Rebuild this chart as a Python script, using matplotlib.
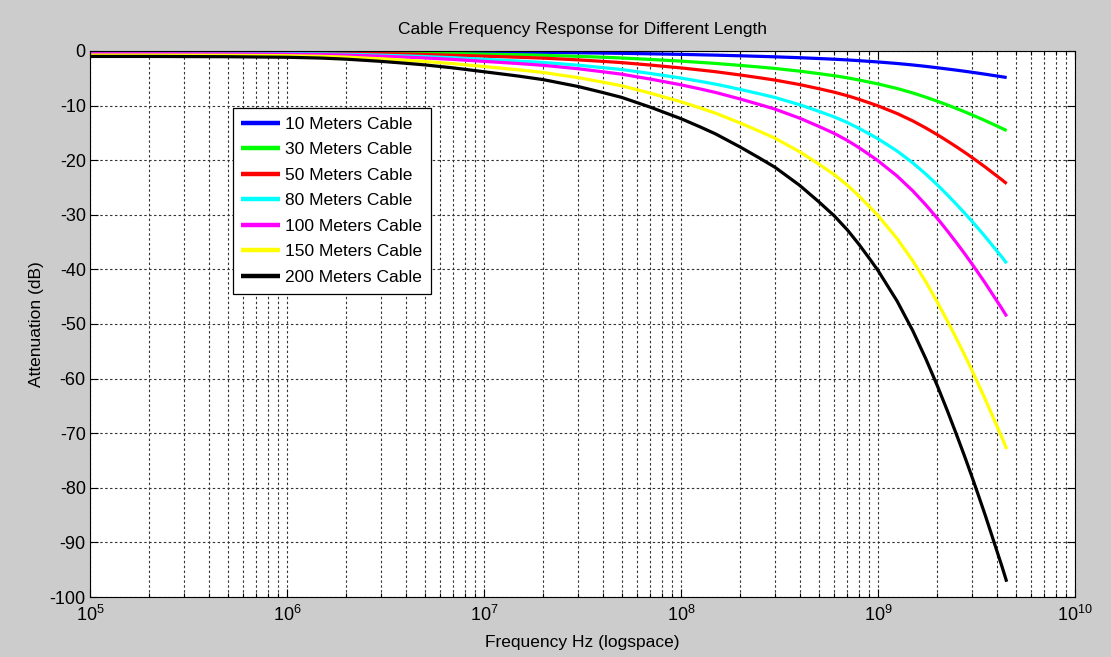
import matplotlib
matplotlib.use("Agg")
import matplotlib.pyplot as plt
from matplotlib.ticker import LogLocator, LogFormatterMathtext, MultipleLocator, NullFormatter

plt.rcParams['font.family'] = ['Liberation Sans', 'DejaVu Sans']
plt.rcParams['mathtext.fontset'] = 'custom'
plt.rcParams['mathtext.rm'] = 'Liberation Sans'
plt.rcParams['mathtext.it'] = 'Liberation Sans'
plt.rcParams['axes.unicode_minus'] = False

# ---- data ----
freq_hz = [1e5, 2e5, 5e5, 1e6, 1.5e6, 2e6, 3e6, 4e6, 5e6, 7e6,
           1e7, 1.5e7, 2e7, 3e7, 4e7, 5e7, 7e7,
           1e8, 1.25e8, 1.5e8, 2e8, 2.5e8, 3e8, 4e8, 5e8, 6e8, 7e8, 8e8, 9e8,
           1e9, 1.25e9, 1.5e9, 1.75e9, 2e9, 2.25e9, 2.5e9, 2.75e9, 3e9, 3.25e9,
           3.5e9, 3.75e9, 4e9, 4.25e9, 4.5e9]

att_10m = [-0.05, -0.05, -0.05, -0.06, -0.07, -0.08, -0.1, -0.11, -0.13, -0.16,
           -0.19, -0.23, -0.26, -0.33, -0.38, -0.43, -0.52,
           -0.62, -0.7, -0.76, -0.88, -0.98, -1.07, -1.23, -1.38, -1.51, -1.64, -1.77, -1.9,
           -2.01, -2.29, -2.56, -2.82, -3.07, -3.3, -3.51, -3.71, -3.9, -4.08,
           -4.25, -4.42, -4.57, -4.72, -4.86]
att_30m = [-0.15, -0.15, -0.16, -0.17, -0.2, -0.23, -0.29, -0.34, -0.38, -0.47,
           -0.57, -0.69, -0.79, -0.98, -1.14, -1.28, -1.55,
           -1.86, -2.09, -2.28, -2.64, -2.94, -3.2, -3.69, -4.14, -4.53, -4.92, -5.31, -5.69,
           -6.03, -6.87, -7.68, -8.46, -9.2, -9.89, -10.53, -11.13, -11.7, -12.24,
           -12.75, -13.25, -13.71, -14.15, -14.58]
att_50m = [-0.25, -0.25, -0.26, -0.29, -0.33, -0.38, -0.48, -0.56, -0.64, -0.78,
           -0.95, -1.15, -1.31, -1.63, -1.9, -2.13, -2.58,
           -3.1, -3.48, -3.8, -4.4, -4.9, -5.33, -6.15, -6.9, -7.55, -8.2, -8.85, -9.48,
           -10.05, -11.45, -12.8, -14.1, -15.33, -16.48, -17.55, -18.55, -19.5, -20.4,
           -21.25, -22.08, -22.85, -23.58, -24.3]
att_80m = [-0.4, -0.4, -0.42, -0.46, -0.52, -0.6, -0.76, -0.9, -1.02, -1.24,
           -1.52, -1.84, -2.1, -2.6, -3.04, -3.4, -4.12,
           -4.96, -5.56, -6.08, -7.04, -7.84, -8.52, -9.84, -11.04, -12.08, -13.12, -14.16, -15.16,
           -16.08, -18.32, -20.48, -22.56, -24.52, -26.36, -28.08, -29.68, -31.2, -32.64,
           -34.0, -35.32, -36.56, -37.72, -38.88]
att_100m = [-0.5, -0.5, -0.53, -0.58, -0.65, -0.75, -0.95, -1.13, -1.28, -1.55,
            -1.9, -2.3, -2.63, -3.25, -3.8, -4.25, -5.15,
            -6.2, -6.95, -7.6, -8.8, -9.8, -10.65, -12.3, -13.8, -15.1, -16.4, -17.7, -18.95,
            -20.1, -22.9, -25.6, -28.2, -30.65, -32.95, -35.1, -37.1, -39.0, -40.8,
            -42.5, -44.15, -45.7, -47.15, -48.6]
att_150m = [-0.75, -0.75, -0.79, -0.86, -0.98, -1.13, -1.43, -1.69, -1.91, -2.33,
            -2.85, -3.45, -3.94, -4.88, -5.7, -6.38, -7.73,
            -9.3, -10.43, -11.4, -13.2, -14.7, -15.98, -18.45, -20.7, -22.65, -24.6, -26.55, -28.43,
            -30.15, -34.35, -38.4, -42.3, -45.98, -49.43, -52.65, -55.65, -58.5, -61.2,
            -63.75, -66.23, -68.55, -70.73, -72.9]
att_200m = [-1.0, -1.0, -1.05, -1.15, -1.3, -1.5, -1.9, -2.25, -2.55, -3.1,
            -3.8, -4.6, -5.25, -6.5, -7.6, -8.5, -10.3,
            -12.4, -13.9, -15.2, -17.6, -19.6, -21.3, -24.6, -27.6, -30.2, -32.8, -35.4, -37.9,
            -40.2, -45.8, -51.2, -56.4, -61.3, -65.9, -70.2, -74.2, -78.0, -81.6,
            -85.0, -88.3, -91.4, -94.3, -97.2]

labels = ['10 Meters Cable', '30 Meters Cable', '50 Meters Cable', '80 Meters Cable',
          '100 Meters Cable', '150 Meters Cable', '200 Meters Cable']
series = [att_10m, att_30m, att_50m, att_80m, att_100m, att_150m, att_200m]
colors = ['#0000ff', '#00ff00', '#ff0000', '#00ffff', '#ff00ff', '#ffff00', '#000000']

title = 'Cable Frequency Response for Different Length'
xlabel = 'Frequency Hz (logspace)'
ylabel = 'Attenuation (dB)'

# ---- figure ----
fig = plt.figure(figsize=(11.11, 6.57), dpi=100, facecolor='#cccccc')
ax = fig.add_axes([0.081, 0.0913, 0.8866, 0.8311])
ax.set_facecolor('white')

for y, c, lab in zip(series, colors, labels):
    ax.plot(freq_hz, y, color=c, lw=2.3, label=lab, solid_capstyle='butt',
            solid_joinstyle='round')

ax.set_xscale('log')
ax.set_xlim(1e5, 1e10)
ax.set_ylim(-100, 0)
ax.yaxis.set_major_locator(MultipleLocator(10))
ax.xaxis.set_major_locator(LogLocator(base=10, numticks=12))
ax.xaxis.set_minor_locator(LogLocator(base=10, subs=range(2, 10), numticks=100))
ax.xaxis.set_major_formatter(LogFormatterMathtext())
ax.xaxis.set_minor_formatter(NullFormatter())

grid_kw = dict(color='#333333', linestyle=(0, (2.2, 2.2)), linewidth=0.8)
ax.grid(True, which='major', axis='both', **grid_kw)
ax.grid(True, which='minor', axis='x', **grid_kw)
ax.set_axisbelow(True)

ax.tick_params(which='both', direction='in', top=True, right=True, labelsize=13,
               colors='black', width=0.8)
ax.tick_params(which='major', length=6)
ax.tick_params(which='minor', length=3)
ax.tick_params(axis='x', pad=6)
ax.tick_params(axis='y', pad=3)
for s in ax.spines.values():
    s.set_color('black')
    s.set_linewidth(0.8)

ax.set_title(title, fontsize=12.5, pad=12)
ax.set_xlabel(xlabel, fontsize=12.5, labelpad=7)
ax.set_ylabel(ylabel, fontsize=12.5, labelpad=4)

leg = ax.legend(loc='upper left', bbox_to_anchor=(0.145, 0.896), fontsize=12.5,
                frameon=True, fancybox=False, edgecolor='black', framealpha=1,
                handlelength=2.2, handletextpad=0.3, labelspacing=0.6,
                borderpad=0.5, borderaxespad=0)
leg.get_frame().set_linewidth(0.9)
for h in leg.get_lines():
    h.set_linewidth(3.2)

fig.savefig('out.png', dpi=100, facecolor=fig.get_facecolor())
